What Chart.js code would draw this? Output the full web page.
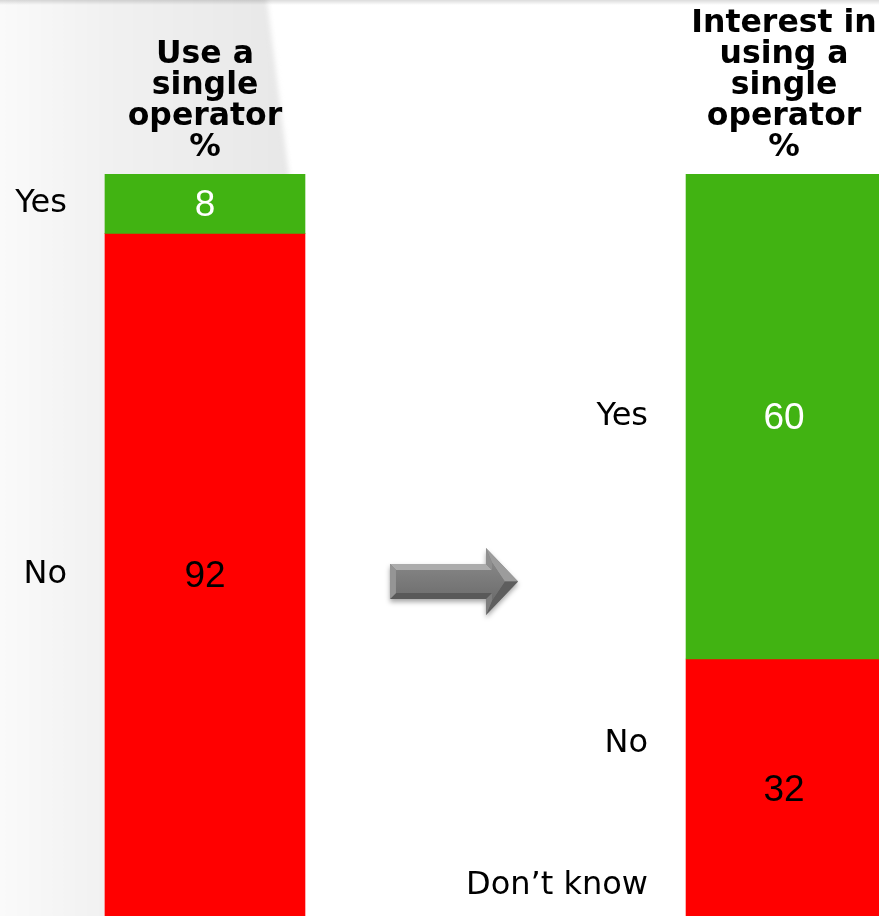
<!DOCTYPE html>
<html>
<head>
<meta charset="utf-8">
<script src="https://cdn.jsdelivr.net/npm/chart.js@4/dist/chart.umd.min.js"></script>
<style>
  html, body { margin: 0; padding: 0; background: #fff; overflow: hidden; }
  canvas { display: block; }
</style>
</head>
<body>
<canvas id="chart" width="879" height="916"></canvas>
<script>
// Column headings (one entry per line) and segment names
const columnTitles = [
  ['Use a', 'single', 'operator', '%'],
  ['Interest in', 'using a', 'single', 'operator', '%']
];
const segmentNames = ['Yes', 'No', 'Don\u2019t know'];

// Percentages per column, in segment order
const useSingleOperator = [8, 92];             // Yes, No
const interestInSingleOperator = [60, 32, 8];  // Yes, No, Don't know

const segmentColors = ['#41b312', '#ff0000', '#a6a6a6'];
const segmentTextColors = ['#ffffff', '#000000', '#000000'];

function columnDatasets(values, column, axisId, thickness) {
  return values.map((v, s) => ({
    label: segmentNames[s],
    data: [{ x: column, y: v }],
    column: column,
    segment: s,
    yAxisID: axisId,
    backgroundColor: segmentColors[s],
    textColor: segmentTextColors[s],
    borderWidth: 0,
    grouped: false,
    barThickness: thickness
  }));
}

const datasets = [
  ...columnDatasets(useSingleOperator, 0, 'yL', 200),
  ...columnDatasets(interestInSingleOperator, 1, 'yR', 196)
];

// Slide backdrop: soft grey panel on the left and a faint top shadow
const backdrop = {
  id: 'backdrop',
  beforeDraw(chart) {
    const { ctx, width, height } = chart;
    ctx.save();
    ctx.fillStyle = '#ffffff';
    ctx.fillRect(0, 0, width, height);
    const g = ctx.createLinearGradient(0, 0, 290, 0);
    g.addColorStop(0, '#fafafa');
    g.addColorStop(0.36, '#f1f1f1');
    g.addColorStop(0.9, '#e9e9e9');
    g.addColorStop(1, '#e7e7e7');
    ctx.filter = 'blur(2.5px)';
    ctx.fillStyle = g;
    ctx.beginPath();
    ctx.moveTo(-10, -10);
    ctx.lineTo(265, -10);
    ctx.lineTo(267, 0);
    ctx.lineTo(289, 175);
    ctx.lineTo(300, height + 10);
    ctx.lineTo(-10, height + 10);
    ctx.closePath();
    ctx.fill();
    ctx.filter = 'none';
    const t = ctx.createLinearGradient(0, 0, 0, 5);
    t.addColorStop(0, 'rgba(0,0,0,0.14)');
    t.addColorStop(1, 'rgba(0,0,0,0)');
    ctx.fillStyle = t;
    ctx.fillRect(0, 0, width, 5);
    ctx.restore();
  }
};

// Grey bevelled arrow between the two columns
const arrow = {
  id: 'arrow',
  beforeDatasetsDraw(chart) {
    const { ctx, chartArea } = chart;
    const leftBar = chart.getDatasetMeta(0).data[0];
    const x0 = leftBar.x + leftBar.width / 2 + 85;
    const cy = chartArea.top + 407.5;
    const len = 128, shaftH = 35, headH = 67, headL = 32;
    const pts = (d) => [
      [x0 + d, cy - shaftH / 2 + d],
      [x0 + len - headL + d, cy - shaftH / 2 + d],
      [x0 + len - headL + d, cy - headH / 2 + d * 2.4],
      [x0 + len - d * 2.2, cy],
      [x0 + len - headL + d, cy + headH / 2 - d * 2.4],
      [x0 + len - headL + d, cy + shaftH / 2 - d],
      [x0 + d, cy + shaftH / 2 - d]
    ];
    const poly = (p) => {
      ctx.beginPath();
      p.forEach(([x, y], i) => (i ? ctx.lineTo(x, y) : ctx.moveTo(x, y)));
      ctx.closePath();
    };
    const O = pts(0), I = pts(6);
    // facet shades by edge orientation: top, head-back, upper slant, lower slant, head-back, bottom, end
    const facetShades = ['#acacac', '#8f8f8f', '#9c9c9c', '#5e5e5e', '#7e7e7e', '#595959', '#959595'];
    ctx.save();
    ctx.shadowColor = 'rgba(0,0,0,0.35)';
    ctx.shadowBlur = 5;
    ctx.shadowOffsetY = 3;
    ctx.fillStyle = '#777777';
    poly(O);
    ctx.fill();
    ctx.shadowColor = 'transparent';
    O.forEach((p, i) => {
      const j = (i + 1) % O.length;
      ctx.fillStyle = facetShades[i];
      poly([O[i], O[j], I[j], I[i]]);
      ctx.fill();
    });
    const face = ctx.createLinearGradient(0, cy - shaftH / 2, 0, cy + shaftH / 2);
    face.addColorStop(0, '#858585');
    face.addColorStop(1, '#6e6e6e');
    ctx.fillStyle = face;
    poly(I);
    ctx.fill();
    ctx.restore();
  }
};

// Segment names to the left of each column, values inside the segments
const segmentLabels = {
  id: 'segmentLabels',
  afterDatasetsDraw(chart, args, opts) {
    const { ctx, chartArea } = chart;
    ctx.save();
    ctx.textBaseline = 'middle';
    chart.data.datasets.forEach((ds, i) => {
      const bar = chart.getDatasetMeta(i).data[0];
      const c = bar.getCenterPoint();
      const yScale = chart.scales[ds.yAxisID];
      const anchors = opts.nameAnchors[ds.column];
      const ny = anchors ? yScale.getPixelForValue(anchors[ds.segment]) : c.y;
      ctx.font = opts.nameFont;
      ctx.fillStyle = '#000000';
      ctx.textAlign = 'right';
      ctx.fillText(segmentNames[ds.segment], bar.x - bar.width / 2 - opts.gap, ny);
      if (c.y < chartArea.bottom) {
        ctx.font = opts.valueFont;
        ctx.fillStyle = ds.textColor;
        ctx.textAlign = 'center';
        ctx.fillText(String(ds.data[0].y), c.x, c.y + 2.5);
      }
    });
    ctx.restore();
  }
};

// Bold column headings stacked above each bar
const headings = {
  id: 'headings',
  afterDraw(chart, args, opts) {
    const { ctx, chartArea } = chart;
    ctx.save();
    ctx.font = opts.font;
    ctx.fillStyle = '#000000';
    ctx.textAlign = 'center';
    ctx.textBaseline = 'middle';
    columnTitles.forEach((lines, col) => {
      const ds = chart.data.datasets.findIndex(d => d.column === col);
      const bar = chart.getDatasetMeta(ds).data[0];
      const lastY = chartArea.top - 26;
      lines.forEach((line, k) => {
        ctx.fillText(line, bar.x, lastY - (lines.length - 1 - k) * opts.lineHeight);
      });
    });
    ctx.restore();
  }
};

new Chart(document.getElementById('chart'), {
  type: 'bar',
  data: { datasets },
  options: {
    responsive: false,
    animation: false,
    layout: { padding: { top: 174, left: 0, right: 0, bottom: 0 } },
    plugins: {
      legend: { display: false },
      tooltip: { enabled: false },
      segmentLabels: {
        nameFont: '32px "DejaVu Sans"',
        valueFont: '37px "Liberation Sans"',
        gap: 38,
        nameAnchors: { 1: [30, 70.5, 88] }
      },
      headings: { font: 'bold 31.5px "DejaVu Sans"', lineHeight: 31 }
    },
    scales: {
      x: { type: 'linear', display: false, min: -0.354, max: 1.164, offset: false },
      yL: { type: 'linear', display: false, stacked: true, reverse: true, min: 0, max: 100 },
      yR: { type: 'linear', display: false, stacked: true, reverse: true, min: 0, max: 91.8 }
    }
  },
  plugins: [backdrop, arrow, segmentLabels, headings]
});
</script>
</body>
</html>
